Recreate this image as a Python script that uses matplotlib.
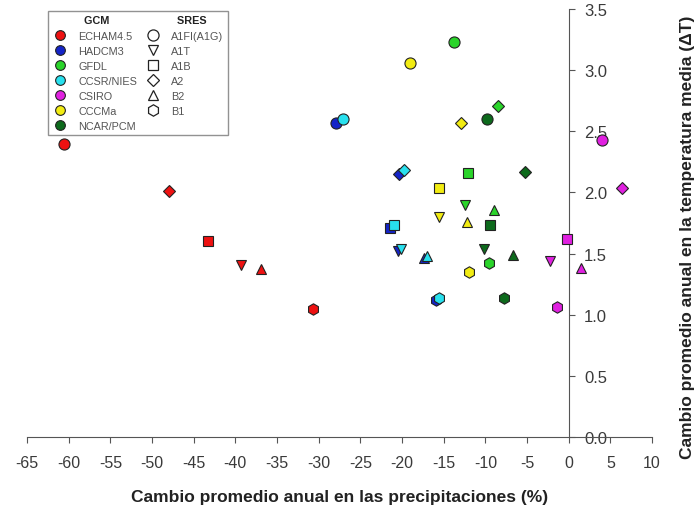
from matplotlib import pyplot as plt
from matplotlib.lines import Line2D

plt.rcParams['font.family'] = ['Liberation Sans', 'DejaVu Sans']
plt.rcParams['axes.unicode_minus'] = False

gcms = ['ECHAM4.5', 'HADCM3', 'GFDL', 'CCSR/NIES', 'CSIRO', 'CCCMa', 'NCAR/PCM']
gcm_colors = ['#ee1111', '#1424c8', '#2ad42a', '#28e0ee', '#e020e0', '#f2ec12', '#0d6a1c']
scenarios = ['A1FI(A1G)', 'A1T', 'A1B', 'A2', 'B2', 'B1']
scenario_markers = ['o', 'v', 's', 'D', '^', 'h']
marker_sizes = [8.0, 7.5, 6.8, 6.4, 7.5, 8.2]

# precipitation change (%) and temperature change per scenario, order as in scenarios
precip_echam = [-60.6, -39.3, -43.3, -47.9, -36.9, -30.7]
temp_echam = [2.40, 1.41, 1.60, 2.01, 1.37, 1.05]
precip_hadcm3 = [-27.9, -20.5, -21.4, -20.4, -17.3, -15.9]
temp_hadcm3 = [2.57, 1.52, 1.71, 2.15, 1.46, 1.12]
precip_gfdl = [-13.7, -12.4, -12.1, -8.5, -9.0, -9.5]
temp_gfdl = [3.23, 1.90, 2.16, 2.71, 1.86, 1.42]
precip_ccsr = [-27.1, -20.1, -21.0, -19.8, -17.0, -15.6]
temp_ccsr = [2.60, 1.54, 1.73, 2.18, 1.48, 1.14]
precip_csiro = [4.0, -2.3, -0.2, 6.4, 1.5, -1.4]
temp_csiro = [2.43, 1.44, 1.62, 2.04, 1.38, 1.06]
precip_cccma = [-19.0, -15.5, -15.6, -12.9, -12.2, -11.9]
temp_cccma = [3.06, 1.80, 2.04, 2.57, 1.76, 1.35]
precip_ncar = [-9.8, -10.2, -9.4, -5.2, -6.7, -7.7]
temp_ncar = [2.60, 1.54, 1.73, 2.17, 1.49, 1.14]

all_precip = [precip_echam, precip_hadcm3, precip_gfdl, precip_ccsr, precip_csiro, precip_cccma, precip_ncar]
all_temp = [temp_echam, temp_hadcm3, temp_gfdl, temp_ccsr, temp_csiro, temp_cccma, temp_ncar]

axis_col = '#555555'
text_col = '#3a3a3a'

fig = plt.figure(figsize=(6.98, 5.10), dpi=100)
ax = fig.add_axes([27 / 698, 1 - 438 / 510, 625 / 698, 428 / 510])

for g in range(len(gcms)):
    for s in range(len(scenarios)):
        ax.plot(all_precip[g][s], all_temp[g][s], marker=scenario_markers[s], ms=marker_sizes[s],
                mfc=gcm_colors[g], mec='#222222', mew=0.8, ls='none', zorder=3)

ax.set_xlim(-65, 10)
ax.set_ylim(0, 3.5)
ax.set_xticks(range(-65, 11, 5))
ax.set_yticks([0, 0.5, 1.0, 1.5, 2.0, 2.5, 3.0, 3.5])
ax.set_yticklabels(['0.0', '0.5', '1.0', '1.5', '2.0', '2.5', '3.0', '3.5'])

ax.spines['top'].set_visible(False)
ax.spines['left'].set_visible(False)
ax.spines['right'].set_position(('data', 0))
ax.spines['right'].set_color(axis_col)
ax.spines['bottom'].set_color(axis_col)
ax.yaxis.set_ticks_position('right')
ax.yaxis.set_label_position('right')
ax.tick_params(axis='both', direction='out', length=4, color=axis_col, labelcolor=text_col)
ax.tick_params(axis='x', labelsize=11.5, pad=9)
ax.tick_params(axis='y', labelsize=12, pad=7)

ax.set_xlabel('Cambio promedio anual en las precipitaciones (%)', fontsize=12.5,
              fontweight='bold', color='#222222', labelpad=14)
ax.set_ylabel('Cambio promedio anual en la temperatura media (ΔT)', fontsize=12.5,
              fontweight='bold', color='#222222', rotation=90)
ax.yaxis.set_label_coords(1.045, 0.47)

# legend: GCM colours in first column, SRES marker shapes in second
blank = Line2D([], [], ls='none')
handles = [blank]
labels = ['  GCM']
for g in range(len(gcms)):
    handles.append(Line2D([], [], marker='o', ls='none', ms=7, mfc=gcm_colors[g], mec='#222222', mew=0.8))
    labels.append(gcms[g])
handles.append(blank)
labels.append('  SRES')
for s in range(len(scenarios)):
    handles.append(Line2D([], [], marker=scenario_markers[s], ls='none', ms=marker_sizes[s],
                          mfc='white', mec='#222222', mew=0.9))
    labels.append(scenarios[s])
handles.append(blank)
labels.append('')

leg = ax.legend(handles, labels, ncol=2, loc='upper left', bbox_to_anchor=(0.034, 0.995),
                borderaxespad=0, fontsize=7.8, frameon=True, fancybox=False, edgecolor='#777777',
                handlelength=1.35, handletextpad=1.0, columnspacing=0.8, labelspacing=0.47,
                borderpad=0.4)
leg.get_frame().set_linewidth(1.0)
for t in leg.get_texts():
    t.set_color('#555555')
for idx in [0, 8]:
    leg.get_texts()[idx].set_fontweight('bold')
    leg.get_texts()[idx].set_color('#222222')

fig.savefig('out.png', dpi=100)
